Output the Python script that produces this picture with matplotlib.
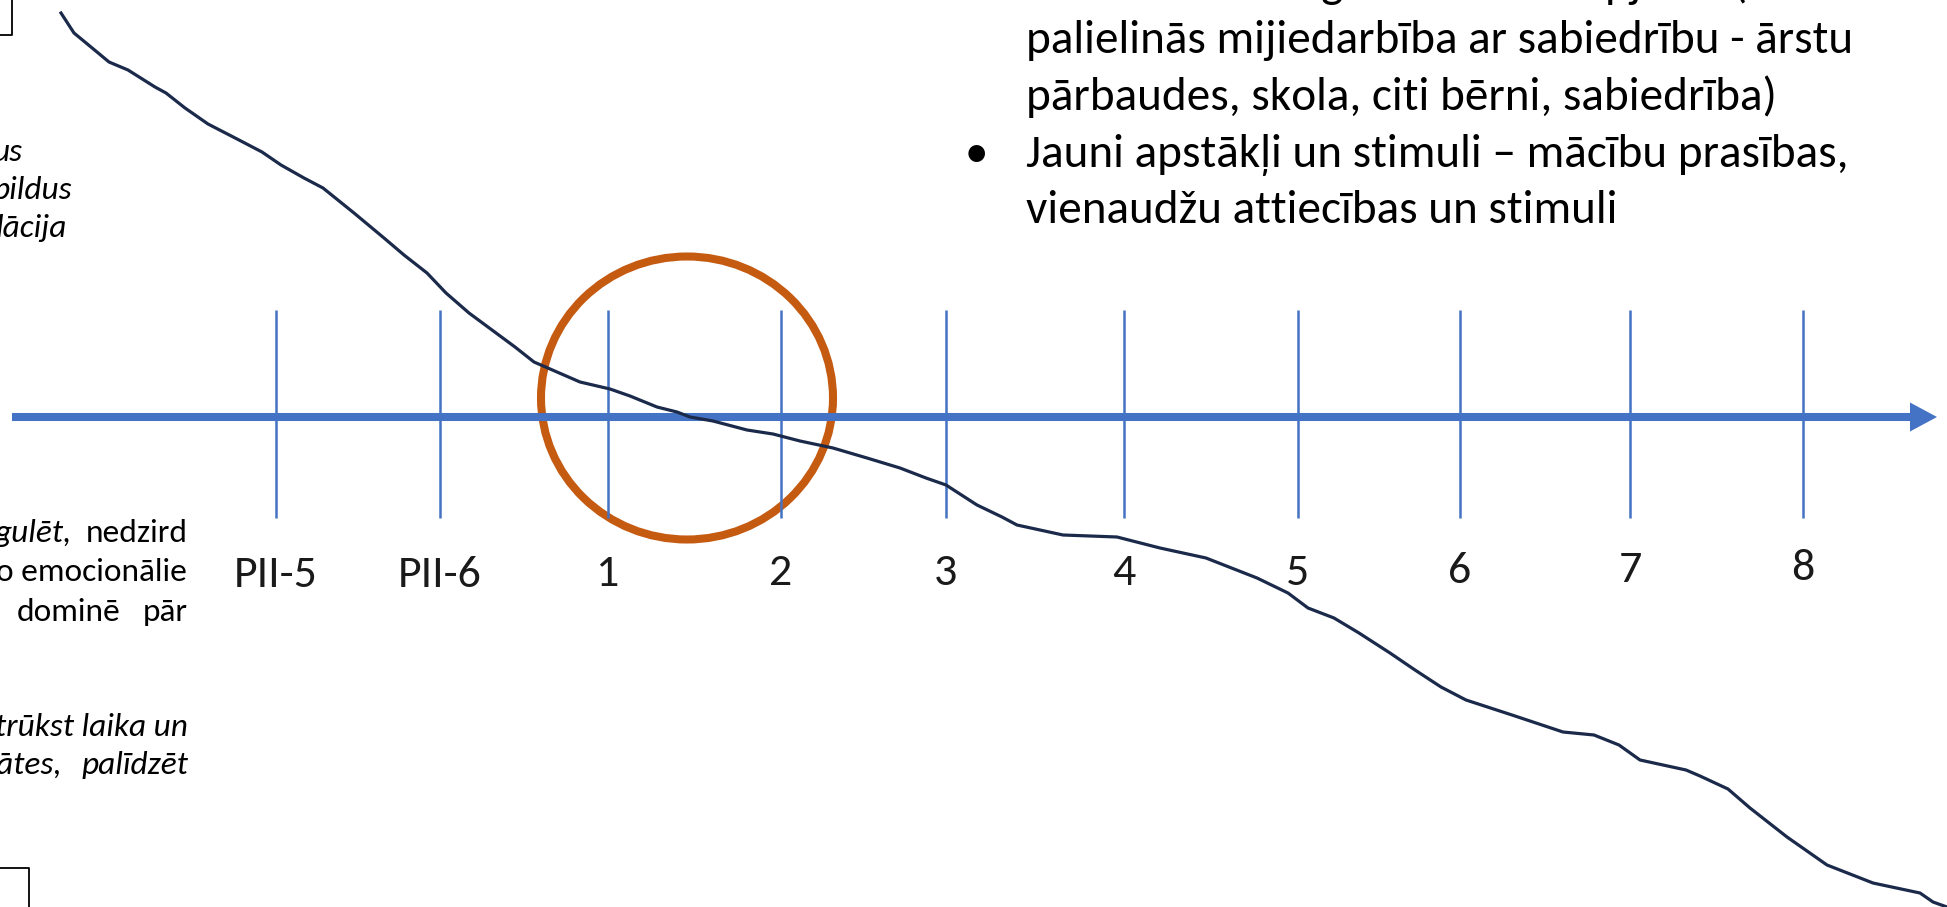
import matplotlib.pyplot as plt
import numpy as np
from matplotlib.patches import Ellipse

# timeline ticks (pixel x of each tick) and their labels
tick_x = [276, 440, 608, 781, 946, 1124, 1298, 1460, 1630, 1803]
tick_labels = ['PII-5', 'PII-6', '1', '2', '3', '4', '5', '6', '7', '8']
label_y = [575, 575, 574, 573, 573, 573, 573, 571, 570, 568]

# hand drawn descending curve
curve_x = [61, 74, 97, 109, 128, 155, 166, 185, 208, 239, 262, 281, 304, 323,
           354, 384, 404, 427, 446, 469, 492, 515, 534, 580, 610, 630, 657,
           677, 690, 713, 747, 773, 800, 833, 867, 900, 926, 946, 977, 1002,
           1017, 1063, 1117, 1160, 1206, 1257, 1288, 1308, 1334, 1359, 1390,
           1415, 1441, 1466, 1512, 1563, 1594, 1619, 1640, 1686, 1700, 1728,
           1750, 1787, 1827, 1873, 1887, 1920, 1933, 1947]
curve_y = [13, 33, 52, 62, 70, 87, 93, 108, 124, 140, 152, 165, 178, 188,
           213, 238, 255, 273, 293, 313, 330, 347, 362, 382, 389, 396, 407,
           412, 417, 421, 430, 434, 441, 448, 458, 468, 478, 485, 505, 517,
           525, 535, 537, 548, 558, 578, 593, 608, 618, 633, 653, 670, 687,
           700, 715, 732, 735, 745, 760, 770, 776, 789, 808, 837, 865, 883,
           886, 893, 902, 907]

bullet_lines = [
    ('•', 'Sociālā vide: aug saskarsmes apjoms ('),
    ('', 'palielinās mijiedarbība ar sabiedrību - ārstu'),
    ('', 'pārbaudes, skola, citi bērni, sabiedrība)'),
    ('•', 'Jauni apstākļi un stimuli – mācību prasības,'),
    ('', 'vienaudžu attiecības un stimuli'),
]
bullet_base = [-3, 53, 110, 167, 223]

blue = '#4472C4'
navy = '#1B2A4A'
orange = '#C55A11'
body_font = ['Carlito', 'Lato', 'DejaVu Sans']
small = 24

fig = plt.figure(figsize=(19.47, 9.07), dpi=100)
ax = fig.add_axes([0, 0, 1, 1])
ax.set_xlim(0, 1947)
ax.set_ylim(907, 0)
ax.axis('off')

# vertical tick lines
for x in tick_x:
    ax.plot([x, x], [310, 518], color=blue, lw=1.8, solid_capstyle='butt')

# main axis with arrow head
ax.plot([12, 1912], [417, 417], color=blue, lw=5.8, solid_capstyle='butt')
ax.fill([1910, 1937, 1910], [402.5, 417, 431.5], color=blue, lw=0)

for x, y, lab in zip(tick_x, label_y, tick_labels):
    ax.text(x, y, lab, ha='center', va='center', fontsize=33,
            family=body_font, color='#1a1a1a')

ax.plot(curve_x, curve_y, color=navy, lw=2.3, solid_joinstyle='round')

ax.add_patch(Ellipse((687, 398), 292, 283, fill=False, ec=orange, lw=5.8))

# right bullet text
for (b, line), yb in zip(bullet_lines, bullet_base):
    if b:
        ax.text(965, yb, b, ha='left', va='baseline', fontsize=34, family=body_font)
    ax.text(1026, yb, line, ha='left', va='baseline', fontsize=34, family=body_font)

# left side text fragments
ax.text(23, 152, 'us', ha='right', va='center', fontsize=small, style='italic', family=body_font)
ax.text(72, 190, 'pildus', ha='right', va='center', fontsize=small, style='italic', family=body_font)
ax.text(67, 228, 'lācija', ha='right', va='center', fontsize=small, style='italic', family=body_font)

ax.text(72, 533, 'gulēt,', ha='right', va='center', fontsize=small, style='italic', family=body_font)
ax.text(188, 533, 'nedzird', ha='right', va='center', fontsize=small, family=body_font)
ax.text(188, 572, 'jo emocionālie', ha='right', va='center', fontsize=small, family=body_font)
ax.text(120, 612, 'dominē', ha='right', va='center', fontsize=small, family=body_font)
ax.text(188, 612, 'pār', ha='right', va='center', fontsize=small, family=body_font)
ax.text(188, 727, 'trūkst laika un', ha='right', va='center', fontsize=small, style='italic', family=body_font)
ax.text(62, 765, 'tātes,', ha='right', va='center', fontsize=small, style='italic', family=body_font)
ax.text(188, 765, 'palīdzēt', ha='right', va='center', fontsize=small, style='italic', family=body_font)

# cut off boxes at the left edge
ax.plot([12, 12, 0], [0, 35, 35], color='black', lw=1.3)
ax.plot([0, 29, 29], [868, 868, 907], color='black', lw=1.3)

fig.savefig('out.png', dpi=100)
